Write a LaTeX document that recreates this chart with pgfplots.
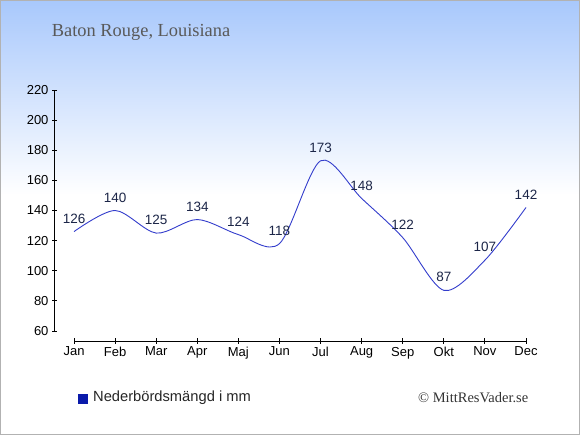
\documentclass[border=0pt]{standalone}
\usepackage{pgfplots}
\pgfplotsset{compat=1.18}
\usepackage{fontspec}
\setmainfont{Liberation Sans}
\newfontfamily\seriffont{Liberation Serif}
\definecolor{topblue}{RGB}{168,200,252}
\definecolor{linecol}{RGB}{51,61,204}
\definecolor{labelcol}{RGB}{28,38,72}
\definecolor{legblue}{RGB}{10,26,170}
\begin{document}
\begin{tikzpicture}
\fill[white] (0bp,0bp) rectangle (580bp,435bp);
\shade[top color=topblue, bottom color=white] (0bp,240bp) rectangle (580bp,435bp);
\draw[black!30, line width=1bp] (0.5bp,0.5bp) rectangle (579.5bp,434.5bp);
\begin{axis}[
  at={(54.5bp,94bp)}, anchor=south west,
  scale only axis, width=471.5bp, height=251bp,
  xmin=-0.475, xmax=11, ymin=53.36, ymax=220,
  axis x line=bottom, axis y line=left,
  axis line style={draw=none},
  clip=false,
  xtick={0,...,11},
  xticklabels={Jan,Feb,Mar,Apr,Maj,Jun,Jul,Aug,Sep,Okt,Nov,Dec},
  ytick={60,80,...,220},
  tick align=center, major tick length=5bp,
  tick style={black, line width=0.9bp},
  ticklabel style={font=\fontsize{13bp}{15bp}\selectfont, text=black},
  /pgf/number format/assume math mode=true,
]
\addplot[linecol, line width=0.9bp, smooth, mark=none,
  nodes near coords,
  nodes near coords style={font=\fontsize{13.5bp}{15bp}\selectfont, text=labelcol, anchor=south, yshift=4.5bp}]
  coordinates {(0,126)(1,140)(2,125)(3,134)(4,124)(5,118)(6,173)(7,148)(8,122)(9,87)(10,107)(11,142)};
\draw[black, line width=0.9bp] (axis cs:0,53.36) -- (axis cs:11,53.36);
\draw[black, line width=0.9bp] (axis cs:-0.475,60) -- (axis cs:-0.475,220);
\end{axis}
\node[anchor=base west, inner sep=0, font=\seriffont\fontsize{18.4bp}{20bp}\selectfont, text=black!65] at (51.7bp,398.3bp) {Baton Rouge, Louisiana};
\fill[legblue] (77.5bp,31bp) rectangle (87.5bp,41bp);
\node[anchor=west, inner sep=0, font=\fontsize{14.7bp}{16bp}\selectfont, text=black!85] at (93bp,37bp) {Nederbördsmängd i mm};
\node[anchor=west, inner sep=0, font=\seriffont\fontsize{14.5bp}{16bp}\selectfont, text=black!80] at (418bp,37bp) {© MittResVader.se};
\end{tikzpicture}
\end{document}
